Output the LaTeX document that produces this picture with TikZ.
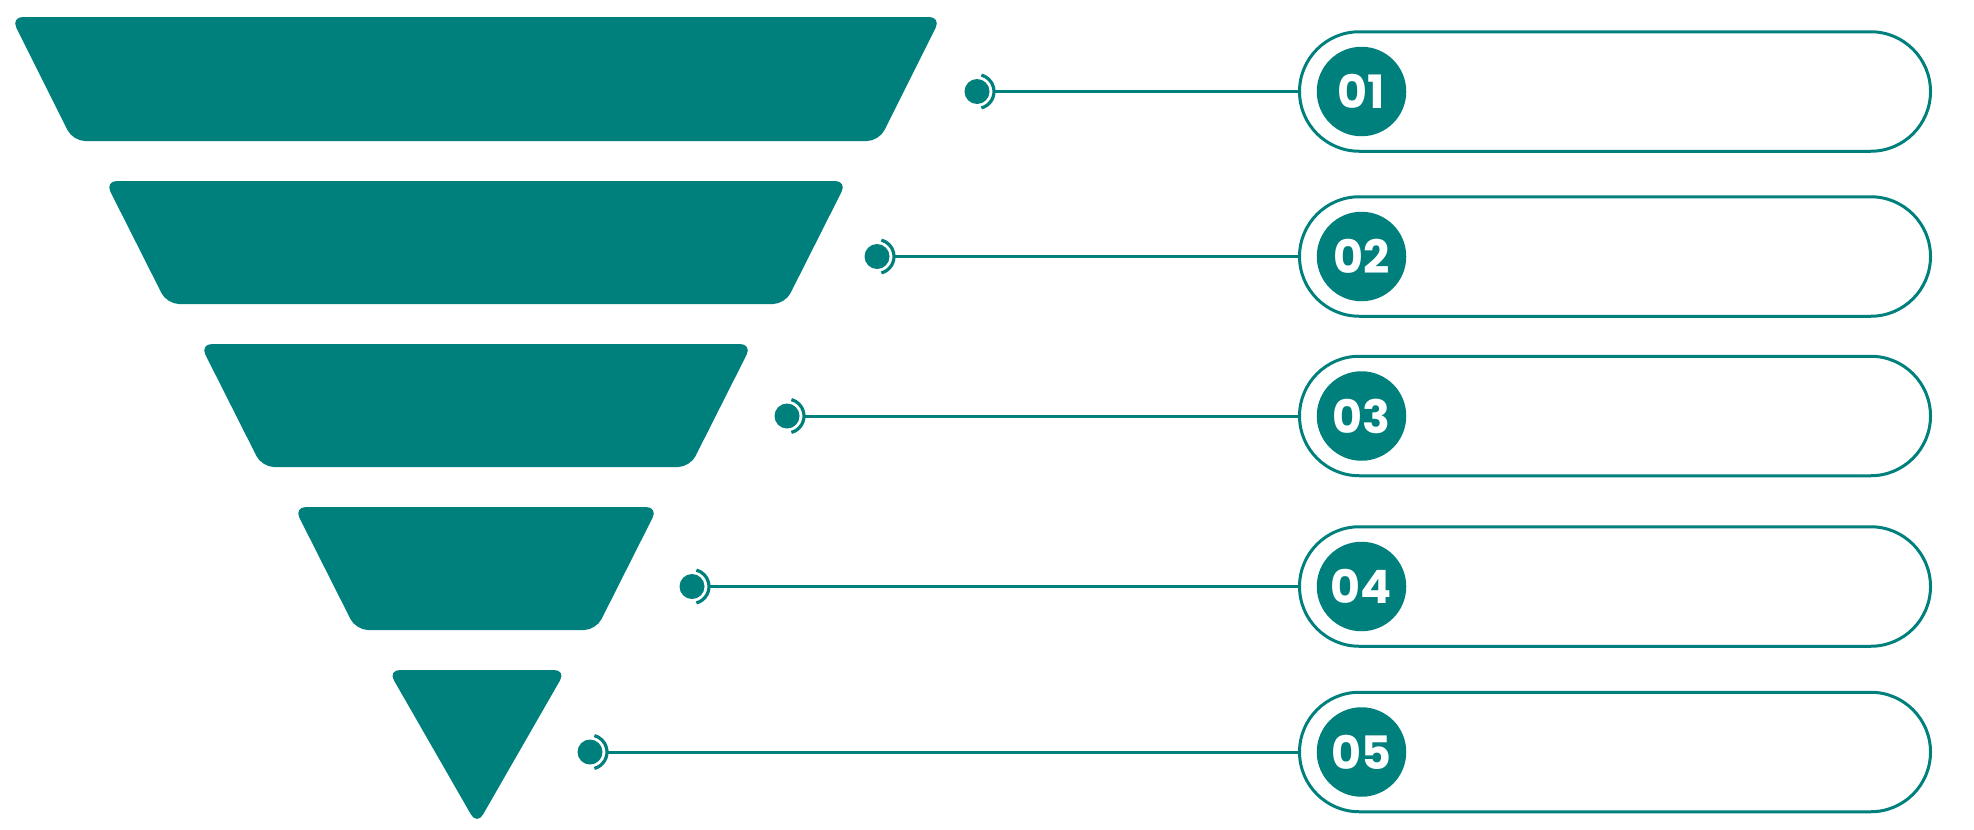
\documentclass[tikz,border=0pt]{standalone}
\usepackage{fontspec}
\setmainfont{Poppins}
\usetikzlibrary{shapes.misc}
\definecolor{tealc}{RGB}{0,128,125}
\tikzset{
  funnel/.style={fill=tealc, rounded corners=12pt},
  dotnode/.style={circle, fill=tealc, inner sep=0pt, minimum size=25pt},
  ringarc/.style={draw=tealc, line width=3.2pt},
  conn/.style={draw=tealc, line width=3pt},
  pill/.style={rounded rectangle, draw=tealc, line width=3pt, minimum width=631pt, minimum height=119.5pt, inner sep=0pt, outer sep=0pt},
  numdisc/.style={circle, fill=tealc, inner sep=0pt, minimum size=89.5pt, text=white, font=\fontsize{46}{46}\selectfont\bfseries}
}
\begin{document}
\begin{tikzpicture}[x=1pt,y=-1pt]
\useasboundingbox (0,0) rectangle (1974,830);
% funnel
\path[funnel] (476,17) -- (941,17) -- (879,141) -- (73,141) -- (11,17) -- cycle;
\path[funnel] (476,181) -- (847,181) -- (785,304) -- (167,304) -- (105,181) -- cycle;
\path[funnel] (476,344) -- (752,344) -- (690,467) -- (262,467) -- (200,344) -- cycle;
\path[funnel] (476,507) -- (658,507) -- (596,630) -- (356,630) -- (294,507) -- cycle;
\path[funnel] (477,670) -- (566,670) -- (477,825) -- (388,670) -- cycle;
% items
\foreach \i/\dx/\y in {1/977/91.5, 2/877/256.5, 3/787/416, 4/692/586.5, 5/590/752}{
  \node[dotnode] (d\i) at (\dx,\y) {};
  \draw[ringarc] ([shift={(75:17)}]d\i.center) arc[start angle=75, end angle=-75, radius=17];
  \coordinate (a\i) at ([xshift=17pt]d\i.center);
  \node[pill] (p\i) at (1615,\y) {};
  \node[numdisc] (n\i) at (1361.5,\y) {0\i};
  \draw[conn] (a\i) -- (p\i.west);
}
\end{tikzpicture}
\end{document}
